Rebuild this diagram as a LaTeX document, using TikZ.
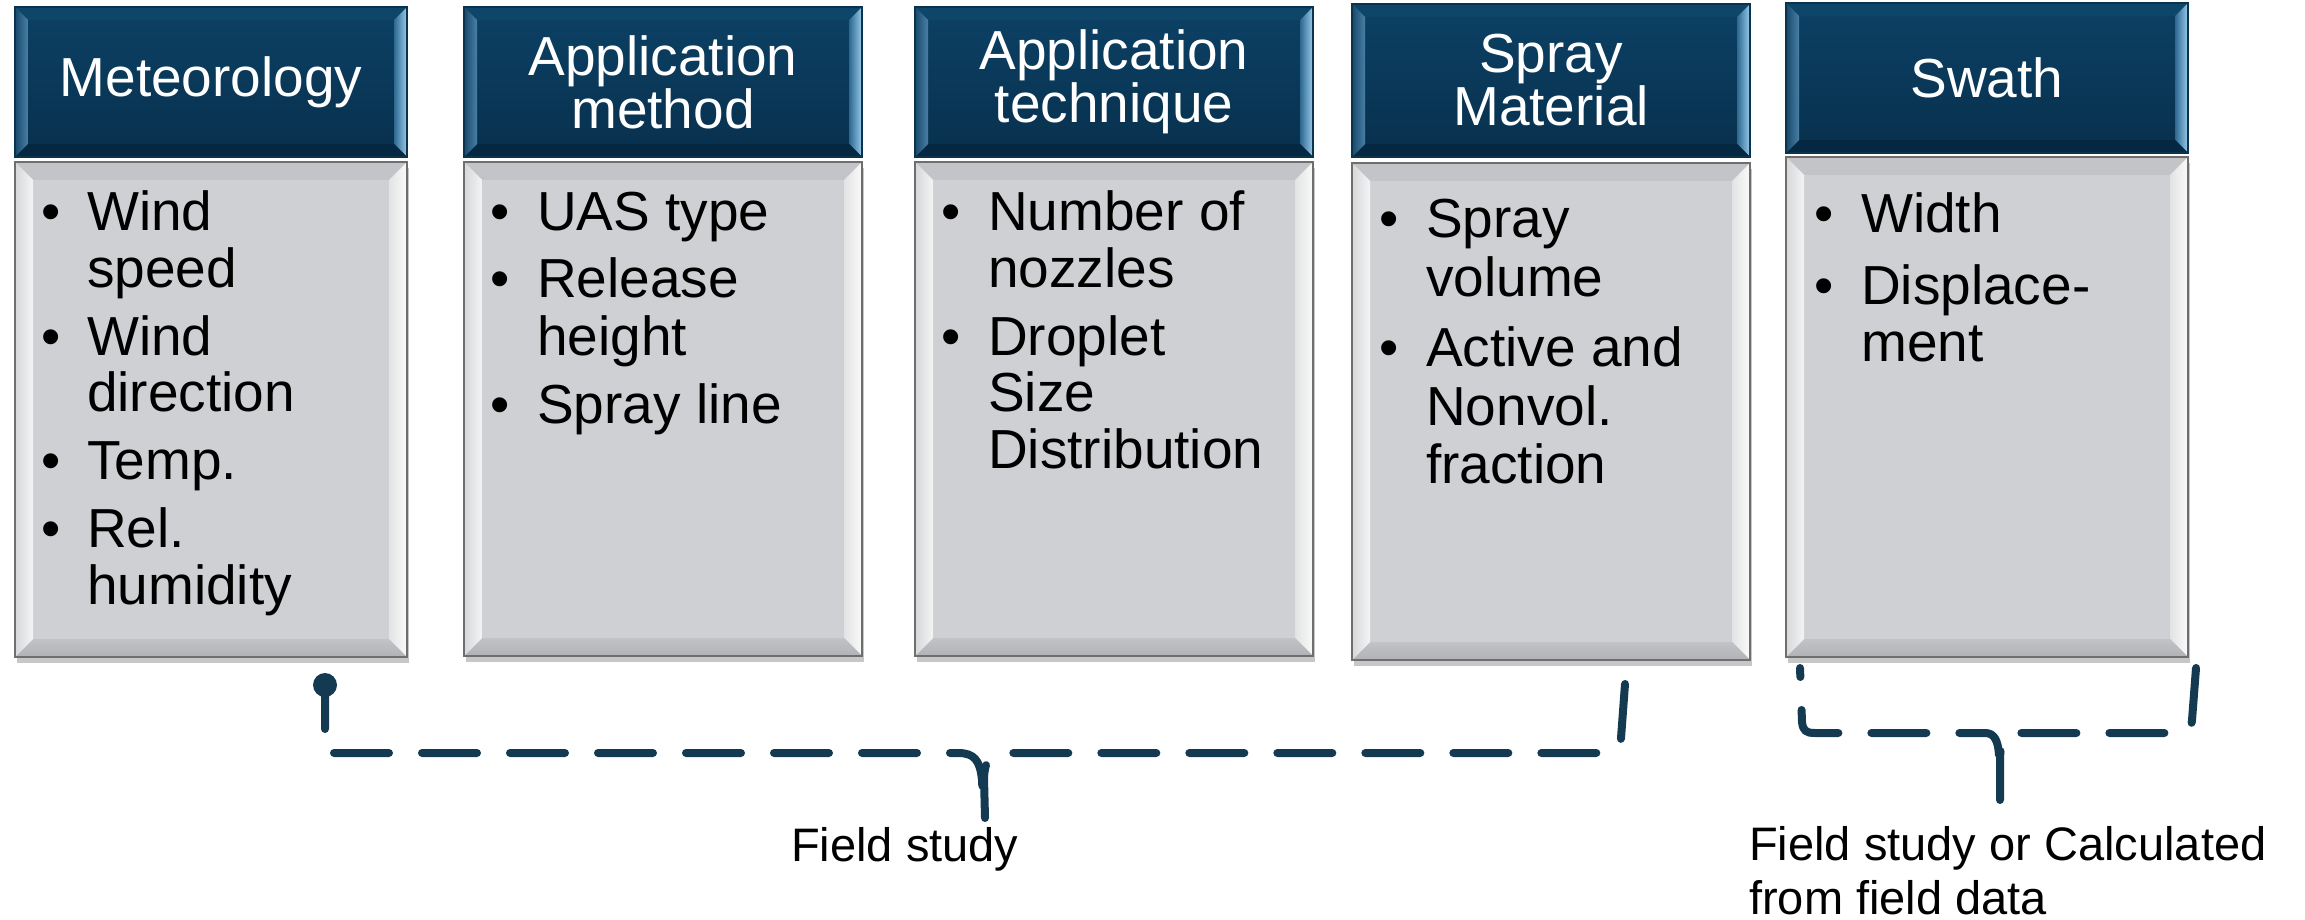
\documentclass[tikz,border=0pt]{standalone}
\usepackage{fontspec}
\setmainfont{Liberation Sans}
\usetikzlibrary{shadows}
\definecolor{hdrline}{HTML}{0A3350}
\definecolor{hdrtop}{HTML}{0C4165}
\definecolor{hdrbot}{HTML}{08304D}
\definecolor{hbT}{HTML}{0E466A}
\definecolor{hbB}{HTML}{052842}
\definecolor{hbLo}{HTML}{17496B}
\definecolor{hbLi}{HTML}{4A80A6}
\definecolor{hbRi}{HTML}{2C6890}
\definecolor{hbRo}{HTML}{9ACAEA}
\definecolor{bodyfill}{HTML}{CFD0D3}
\definecolor{bodyline}{HTML}{6E6E6E}
\definecolor{bbT1}{HTML}{C3C4C7}
\definecolor{bbT2}{HTML}{CDCED1}
\definecolor{bbB1}{HTML}{C2C3C6}
\definecolor{bbB2}{HTML}{B1B2B5}
\definecolor{bbLo}{HTML}{D6D7D9}
\definecolor{bbLi}{HTML}{F4F4F5}
\definecolor{bbRi}{HTML}{E2E3E4}
\definecolor{bbRo}{HTML}{FAFAFA}
\definecolor{conn}{HTML}{143A52}
\newcommand\mybevel[5]{%
\path[#2] (path picture bounding box.north west) -- (path picture bounding box.north east) -- ([shift={(-#1,-#1)}]path picture bounding box.north east) -- ([shift={(#1,-#1)}]path picture bounding box.north west) -- cycle;
\path[#3] (path picture bounding box.north east) -- (path picture bounding box.south east) -- ([shift={(-#1,#1)}]path picture bounding box.south east) -- ([shift={(-#1,-#1)}]path picture bounding box.north east) -- cycle;
\path[#4] (path picture bounding box.south east) -- (path picture bounding box.south west) -- ([shift={(#1,#1)}]path picture bounding box.south west) -- ([shift={(-#1,#1)}]path picture bounding box.south east) -- cycle;
\path[#5] (path picture bounding box.south west) -- (path picture bounding box.north west) -- ([shift={(#1,-#1)}]path picture bounding box.north west) -- ([shift={(#1,#1)}]path picture bounding box.south west) -- cycle;
}
\newcommand\hfs{\fontsize{55}{53}\selectfont}
\newcommand\lfs{\fontsize{47}{54}\selectfont}
\begin{document}
\begin{tikzpicture}[x=1pt,y=-1pt,
  hdr/.style={draw=hdrline, line width=1.5pt, inner sep=0pt, top color=hdrtop, bottom color=hdrbot,
    text=white, font=\hfs, align=center,
    path picture={\mybevel{13pt}{fill=hbT}{left color=hbRi,right color=hbRo}{fill=hbB}{left color=hbLo,right color=hbLi}}},
  bodybox/.style={draw=bodyline, line width=1.5pt, inner sep=0pt, fill=bodyfill,
    drop shadow={shadow xshift=2pt, shadow yshift=-6pt, fill=black, opacity=0.22},
    path picture={\mybevel{18pt}{top color=bbT1,bottom color=bbT2}{left color=bbRi,right color=bbRo}{top color=bbB1,bottom color=bbB2}{left color=bbLo,right color=bbLi}}},
  bodytxt/.style={inner sep=0pt, anchor=base west, text=black},
  lbl/.style={inner sep=0pt, anchor=base west, text=black, font=\lfs},
  brace/.style={draw=conn, line width=8pt, line cap=round, line join=round, dash pattern=on 55pt off 33pt}]
\useasboundingbox (0,0) rectangle (2305,920);

% bodies
\node[bodybox, minimum width=392pt, minimum height=495pt] (b1) at (211,409.5) {};
\node[bodybox, minimum width=398pt, minimum height=494pt] (b2) at (663,409) {};
\node[bodybox, minimum width=398pt, minimum height=494pt] (b3) at (1114,409) {};
\node[bodybox, minimum width=398pt, minimum height=497pt] (b4) at (1551,411.5) {};
\node[bodybox, minimum width=402pt, minimum height=500pt] (b5) at (1987,407) {};

% headers
\node[hdr, minimum width=392pt, minimum height=150pt] (h1) at (211,82) {Meteorology};
\node[hdr, minimum width=398pt, minimum height=150pt] (h2) at (663,82) {Application\\method};
\node[hdr, minimum width=398pt, minimum height=150pt] (h3) at (1114,82) {Application\\technique};
\node[hdr, minimum width=398pt, minimum height=153pt] (h4) at (1551,80.5) {Spray\\Material};
\node[hdr, minimum width=402pt, minimum height=150pt] (h5) at (1987,78) {Swath};

% body texts
\node[bodytxt, font=\fontsize{55}{57}\selectfont] (t1) at (41,230)
 {\begin{tabular}[t]{@{}p{46pt}@{}l@{}}\textbullet & Wind\\ & speed\\[11pt]
  \textbullet & Wind\\ & direction\\[11pt] \textbullet & Temp.\\[11pt]
  \textbullet & Rel.\\ & humidity\end{tabular}};
\node[bodytxt, font=\fontsize{55}{58}\selectfont] (t2) at (490,230)
 {\begin{tabular}[t]{@{}p{47pt}@{}l@{}}\textbullet & UAS type\\[9pt]
  \textbullet & Release\\ & height\\[10pt] \textbullet & Spray line\end{tabular}};
\node[bodytxt, font=\fontsize{55}{57}\selectfont] (t3) at (941,230)
 {\begin{tabular}[t]{@{}p{47pt}@{}l@{}}\textbullet & Number of\\ & nozzles\\[11pt]
  \textbullet & Droplet\\ & Size\\ & Distribution\end{tabular}};
\node[bodytxt, font=\fontsize{55}{59}\selectfont] (t4) at (1379,237)
 {\begin{tabular}[t]{@{}p{47pt}@{}l@{}}\textbullet & Spray\\ & volume\\[11pt]
  \textbullet & Active and\\ & Nonvol.\\ & fraction\end{tabular}};
\node[bodytxt, font=\fontsize{55}{57}\selectfont] (t5) at (1814,233)
 {\begin{tabular}[t]{@{}p{47pt}@{}l@{}}\textbullet & Width\\[15pt]
  \textbullet & Displace-\\ & ment\end{tabular}};

% bracket 1
\coordinate (L1) at (325,685);
\coordinate (R1) at (1625,684);
\coordinate (T1) at (985,818);
\fill[conn] (L1) circle (12);
\draw[brace, dash phase=11pt] (L1) -- (325,753) -- (958,753)
  .. controls (974,753) and (980,760) .. (982,780) -- (983,800);
\draw[brace] (R1) -- (1621,738) .. controls (1620,750) and (1615,753) .. (1605,753)
  -- (1004,753) .. controls (990,753) and (985,760) .. (984,778) -- (T1);

% bracket 2
\coordinate (L2) at (1800,668);
\coordinate (R2) at (2196,668);
\coordinate (T2) at (2000,800);
\draw[brace, dash phase=46pt] (L2) -- (1802,722) .. controls (1803,731) and (1806,733) .. (1815,733)
  -- (1985,733) .. controls (1994,733) and (1998,740) .. (1999,755);
\draw[brace] (R2) -- (2192,720) .. controls (2191,730) and (2188,733) .. (2180,733)
  -- (2013,733) .. controls (2004,733) and (2001,740) .. (2000,758) -- (T2);

% labels
\node[lbl] (f1) at (791,861) {Field study};
\node[lbl] (f2) at (1749,860) {\begin{tabular}[t]{@{}l@{}}Field study or Calculated\\from field data\end{tabular}};
\end{tikzpicture}
\end{document}
